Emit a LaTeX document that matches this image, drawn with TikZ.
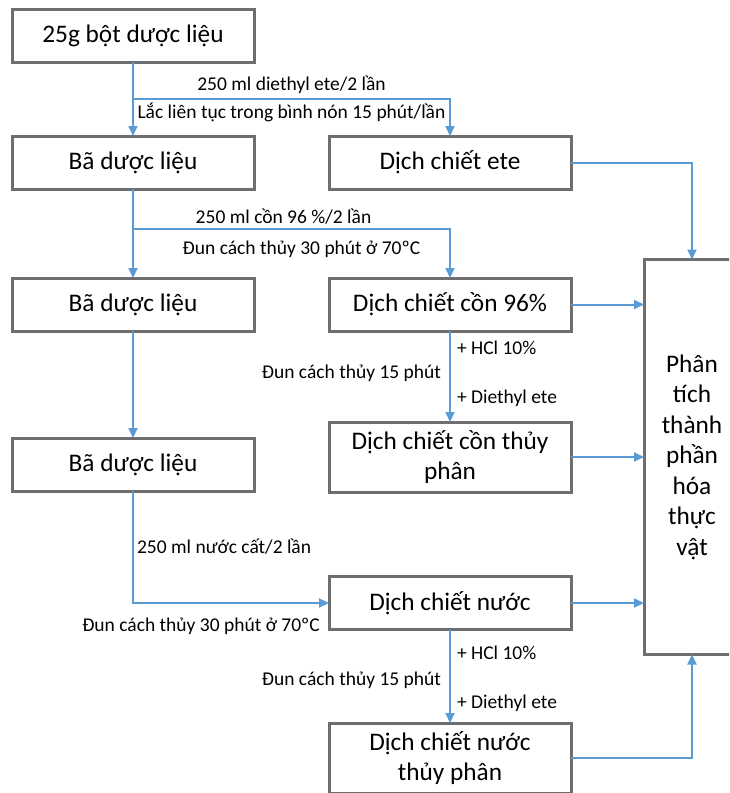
\documentclass[tikz,border=0pt]{standalone}
\usepackage{fontspec}
\setmainfont{Carlito}
\usetikzlibrary{positioning}
\usetikzlibrary{arrows.meta,calc}
\definecolor{boxgray}{HTML}{6E6E6E}
\definecolor{flowblue}{HTML}{5B9BD5}

\begin{document}
\begin{tikzpicture}[x=1pt,y=-1pt,>={Triangle[length=10pt,width=9pt]},
    box/.style={draw=boxgray,line width=3pt,outer sep=0pt,inner sep=2pt,
      minimum width=242pt,minimum height=53pt,align=center,
      font=\fontsize{25.3}{30.5}\selectfont},
    tallbox/.style={box,minimum height=70pt},
    flow/.style={->,draw=flowblue,line width=2pt},
    note/.style={font=\fontsize{19.5}{23}\selectfont,inner sep=3pt}]
          \useasboundingbox (0,0) rectangle (729,793);
          \clip (0,0) rectangle (729,793);

          \node[box] (start) at (133,35.5)       {25g bột dược liệu};
          \node[box] (bd1) [below=74pt of start]  {Bã dược liệu};
          \node[box] (bd2) [below=89pt of bd1]    {Bã dược liệu};
          \node[box] (bd3) [below=107pt of bd2]   {Bã dược liệu};
          \node[box] (ete) [right=75pt of bd1]    {Dịch chiết ete};
          \node[box] (con) [right=75pt of bd2]    {Dịch chiết cồn 96\%};
          \node[tallbox] (contp) [below=91pt of con]  {Dịch chiết cồn thủy\\phân};
          \node[box] (nuoc) [below=84.5pt of contp]   {Dịch chiết nước};
          \node[tallbox] (nuoctp) [below=93.5pt of nuoc] {Dịch chiết nước\\thủy phân};
          \node[box,minimum width=96pt,minimum height=395pt] (pt) [right=73pt of contp]
            {Phân\\tích\\thành\\phần\\hóa\\thực\\vật};

          \coordinate (s1) at ($(start.south)!0.5!(bd1.north)$);
          \coordinate (s2) at ($(bd1.south)+(0,40)$);

          % left column
          \draw[flow] (start) -- (bd1);
          \draw[flow] (s1) -| node[note,above=1pt,pos=0.25] {250 ml diethyl ete/2 lần}
            node[note,below,pos=0.25] {Lắc liên tục trong bình nón 15 phút/lần} (ete);
          \draw[flow] (bd1) -- (bd2);
          \draw[flow] (s2) -| node[note,above=1pt,pos=0.25,xshift=-8pt] {250 ml cồn 96 \%/2 lần}
            node[note,below=8pt,pos=0.25,xshift=10pt] {Đun cách thủy 30 phút ở 70ºC} (con);
          \draw[flow] (bd2) -- (bd3);
          \draw[flow] (bd3) |- node[note,right,pos=0.25] {250 ml nước cất/2 lần}
            node[note,below left=3pt,pos=1,xshift=-3pt,yshift=-9pt] {Đun cách thủy 30 phút ở 70ºC} (nuoc);

          % middle column
          \draw[flow] (con) -- node[note,right=3pt,pos=0.18] {+ HCl 10\%}
            node[note,left=5pt,pos=0.46] {Đun cách thủy 15 phút}
            node[note,right=3pt,pos=0.74] {+ Diethyl ete} (contp);
          \draw[flow] (nuoc) -- node[note,right=3pt,pos=0.245] {+ HCl 10\%}
            node[note,left=5pt,pos=0.54] {Đun cách thủy 15 phút}
            node[note,right=3pt,pos=0.79] {+ Diethyl ete} (nuoctp);

          % into the analysis box
          \draw[flow] (ete) -| (pt);
          \draw[flow] (con) -- (con -| pt.west);
          \draw[flow] (contp) -- (contp -| pt.west);
          \draw[flow] (nuoc) -- (nuoc -| pt.west);
          \draw[flow] (nuoctp) -| (pt);
        \end{tikzpicture}
\end{document}
